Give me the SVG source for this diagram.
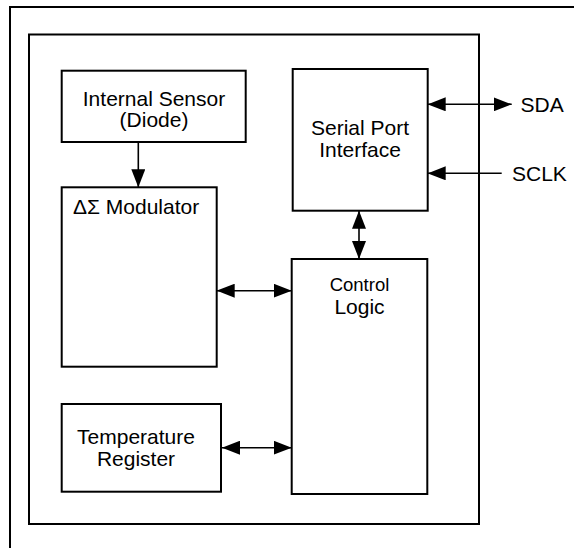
<svg xmlns="http://www.w3.org/2000/svg" width="574" height="548" viewBox="0 0 574 548">
<style>
.box{fill:#fff;stroke:#000;stroke-width:2}
.frame{fill:none;stroke:#000;stroke-width:2}
.conn{fill:none;stroke:#000;stroke-width:1.6}
.t{font-family:"Liberation Sans",Arial,sans-serif;font-size:21px;fill:#000}
.c{text-anchor:middle}
</style>
<defs>
<marker id="ah" markerUnits="userSpaceOnUse" markerWidth="18" markerHeight="14" refX="18" refY="7" orient="auto-start-reverse" viewBox="0 0 18 14">
<path d="M0,0 L18,7 L0,14 z" fill="#000"/>
</marker>
</defs>
<rect width="574" height="548" fill="#fff"/>
<path class="frame" d="M10,548 L10,7 L574,7"/>
<rect id="chip" class="box" x="29" y="34.5" width="450" height="489.5"/>
<g id="internal-sensor">
<rect class="box" x="61.7" y="70.7" width="184" height="71.3"/>
<text class="t c" x="154" y="106">Internal Sensor</text>
<text class="t c" x="154" y="127">(Diode)</text>
</g>
<g id="modulator">
<rect class="box" x="61.7" y="187.3" width="155" height="179.4"/>
<text class="t" x="73" y="214">ΔΣ  Modulator</text>
</g>
<g id="temperature-register">
<rect class="box" x="61.7" y="404" width="159.3" height="87.7"/>
<text class="t c" x="136" y="443.5">Temperature</text>
<text class="t c" x="136" y="466">Register</text>
</g>
<g id="serial-port">
<rect class="box" x="292.7" y="69" width="135" height="141.7"/>
<text class="t c" x="360" y="135">Serial Port</text>
<text class="t c" x="360" y="157">Interface</text>
</g>
<g id="control-logic">
<rect class="box" x="291.7" y="259" width="135.6" height="235"/>
<text class="t c" x="359.5" y="291" style="font-size:18.5px">Control</text>
<text class="t c" x="359.5" y="313.5">Logic</text>
</g>
<g id="sda">
<text class="t" x="520.5" y="111.5">SDA</text>
</g>
<g id="sclk">
<text class="t" x="512" y="180.5">SCLK</text>
</g>
<g id="connectors">
<line class="conn" x1="138.3" y1="142" x2="138.3" y2="187.3" marker-end="url(#ah)"/>
<line class="conn" x1="216.7" y1="290.7" x2="291.7" y2="290.7" marker-start="url(#ah)" marker-end="url(#ah)"/>
<line class="conn" x1="222" y1="447.7" x2="291.7" y2="447.7" marker-start="url(#ah)" marker-end="url(#ah)"/>
<line class="conn" x1="359" y1="210.7" x2="359" y2="259" marker-start="url(#ah)" marker-end="url(#ah)"/>
<line class="conn" x1="427.7" y1="104.3" x2="511.7" y2="104.3" marker-start="url(#ah)" marker-end="url(#ah)"/>
<line class="conn" x1="501.7" y1="173.3" x2="427.7" y2="173.3" marker-end="url(#ah)"/>
</g>
</svg>
